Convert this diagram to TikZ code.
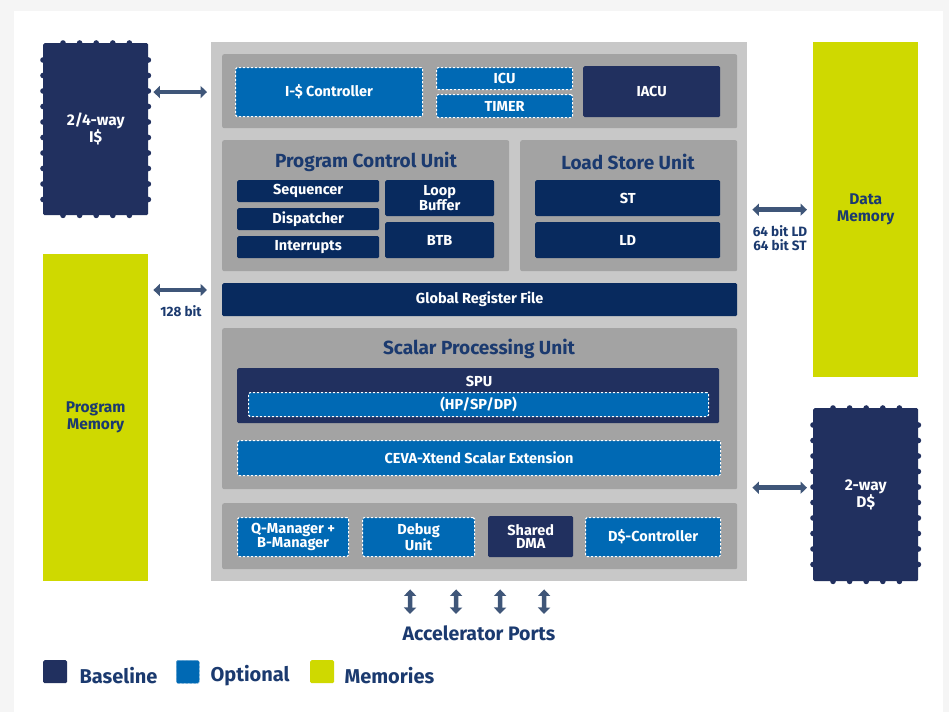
\documentclass[tikz,border=0pt]{standalone}
\usepackage{fontspec}
\setmainfont{Fira Sans}
\usetikzlibrary{arrows.meta,positioning,calc}

\definecolor{basenavy}{HTML}{21305F}
\definecolor{unitnavy}{HTML}{082A5E}
\definecolor{optblue}{HTML}{0069B4}
\definecolor{memlime}{HTML}{CFD900}
\definecolor{corebg}{HTML}{C8C8C8}
\definecolor{panelbg}{HTML}{A3A3A3}
\definecolor{titletxt}{HTML}{1B3A6F}
\definecolor{buscol}{HTML}{3F5679}

\tikzset{
  size/.style 2 args={minimum width=#1pt, minimum height=#2pt},
  box/.style={anchor=north west, inner sep=0pt, align=center, text=white, rounded corners=1.5pt,
    font=\bfseries\fontsize{14.5}{13.5}\selectfont},
  basebox/.style={box, fill=basenavy},
  unitbox/.style={box, fill=unitnavy},
  optbox/.style={box, fill=optblue, draw=white, line width=1.1pt, dash pattern=on 2.2pt off 1.8pt},
  membox/.style={box, fill=memlime, text=titletxt, rounded corners=0pt, font=\bfseries\fontsize{15.5}{17}\selectfont},
  cachebox/.style={box, fill=basenavy, font=\bfseries\fontsize{15.5}{17}\selectfont},
  panel/.style={anchor=north west, inner sep=0pt, fill=panelbg, rounded corners=2pt},
  title/.style={font=\bfseries\fontsize{19}{19}\selectfont, text=titletxt},
  bus/.style={{Triangle[width=12pt,length=6.5pt]}-{Triangle[width=12pt,length=6.5pt]}, line width=4.5pt, draw=buscol},
  buslabel/.style={font=\bfseries\fontsize{13.5}{14}\selectfont, text=titletxt, align=center},
  legend/.style={font=\bfseries\fontsize{20}{20}\selectfont, text=titletxt, anchor=west},
}

% little bumps round the edge of a cache block
\newcommand\cachebumps[1]{%
  \foreach \k in {0,...,4}{
    \fill[basenavy] ([xshift=20+16.6*\k]#1.north west) circle (2.8);
    \fill[basenavy] ([xshift=20+16.6*\k]#1.south west) circle (2.8);}
  \foreach \k in {0,...,9}{
    \fill[basenavy] ([yshift=-17-15.5*\k]#1.north west) circle (2.8);
    \fill[basenavy] ([yshift=-17-15.5*\k]#1.north east) circle (2.8);}
}

\begin{document}
\begin{tikzpicture}[x=1pt, y=-1pt]
  \useasboundingbox (0,0) rectangle (949,712);
  \fill[gray!8] (0,0) rectangle (949,712);
  \fill[white] (14,11) rectangle (943,712);

  % memories and caches
  \node[cachebox, size={105}{172}] (icache) at (43,43) {2/4-way\\I\$};
  \cachebumps{icache}
  \node[membox, size={105}{327}] (pmem) at (43,254) {Program\\Memory};
  \node[membox, size={105}{335}] (dmem) at (813,42) {Data\\Memory};
  \node[cachebox, size={105}{173}] (dcache) at (813,408) {2-way\\D\$};
  \cachebumps{dcache}

  % core
  \node[anchor=north west, inner sep=0pt, fill=corebg, size={536}{539}] (core) at (211,42) {};

  \node[panel, size={515}{74}] (top) at (222,54) {};
  \node[optbox, size={187}{49}] (icctrl) at (235,67) {I-\$ Controller};
  \node[optbox, size={136}{22}] (icu) at (436,67) {ICU};
  \node[optbox, size={136}{23}] (timer) at (436,94) {TIMER};
  \node[basebox, size={137}{51}] (iacu) at (583,66) {IACU};

  \node[panel, size={287}{131}] (pcu) at (222,140) {};
  \node[title] at (366,162) {Program Control Unit};
  \node[unitbox, size={142}{22}] (seq) at (237,180) {Sequencer};
  \node[unitbox, size={142}{22}] (disp) at (237,208) {Dispatcher};
  \node[unitbox, size={142}{22}] (intr) at (237,236) {Interrupts};
  \node[unitbox, size={109}{36}] (loop) at (385,180) {Loop\\Buffer};
  \node[unitbox, size={109}{36}] (btb) at (385,222) {BTB};

  \node[panel, size={217}{131}] (lsu) at (520,140) {};
  \node[title] at (628,162) {Load Store Unit};
  \node[unitbox, size={185}{36}] (st) at (535,180) {ST};
  \node[unitbox, size={185}{36}] (ld) at (535,222) {LD};

  \node[unitbox, size={515}{33}] (grf) at (222,283) {Global Register File};

  \node[panel, size={515}{161}] (spu) at (222,328) {};
  \node[title] at (479,349) {Scalar Processing Unit};
  \node[basebox, size={482}{55}] (spubox) at (237,368) {};
  \node[box, anchor=center] at (479,381) {SPU};
  \node[optbox, size={460}{24}] (prec) at (248,392) {(HP/SP/DP)};
  \node[optbox, size={483}{35}] (xtend) at (237,440) {CEVA-Xtend Scalar Extension};

  \node[panel, size={515}{66}] (bottom) at (222,503) {};
  \node[optbox, size={111}{39}] (qman) at (237,517) {Q-Manager +\\B-Manager};
  \node[optbox, size={112}{39}] (dbg) at (362,517) {Debug\\Unit};
  \node[basebox, size={85}{41}] (dma) at (488,516) {Shared\\DMA};
  \node[optbox, size={135}{39}] (dcctrl) at (585,517) {D\$-Controller};

  % buses
  \draw[bus] ([xshift=5]icache.east |- icctrl) -- ([xshift=-4]core.west |- icctrl);
  \coordinate (pbus) at ([yshift=-36]pmem.north east);
  \draw[bus] ([xshift=5]pbus) -- ([xshift=-4]core.west |- pbus);
  \node[buslabel] at (181,311) {128 bit};
  \draw[bus] ([xshift=5]core.east |- dmem) -- ([xshift=-6]dmem.west);
  \node[buslabel] at (780,238) {64 bit LD\\64 bit ST};
  \coordinate (dbus) at ([yshift=7]dcache.west);
  \draw[bus] ([xshift=5]core.east |- dbus) -- ([xshift=-6]dbus);

  \node[font=\bfseries\fontsize{19.5}{19}\selectfont, text=titletxt, anchor=north] (ports) at (479,622) {Accelerator Ports};
  \foreach \dx in {-69,-23,21,65}
    \draw[bus] ([xshift=\dx, yshift=-8]core.south) -- ([xshift=\dx, yshift=8]ports.north);

  % legend
  \node[basebox, size={24}{23}] (lbase) at (43,660) {};
  \node[legend] at (76,676) {Baseline};
  \node[optbox, size={23}{23}, line width=0.6pt, draw=optblue!60!white] (lopt) at (176,660) {};
  \node[legend] at (207,676) {Optional};
  \node[membox, size={24}{23}, rounded corners=1.5pt] (lmem) at (310,660) {};
  \node[legend] at (341,676) {Memories};
\end{tikzpicture}
\end{document}
